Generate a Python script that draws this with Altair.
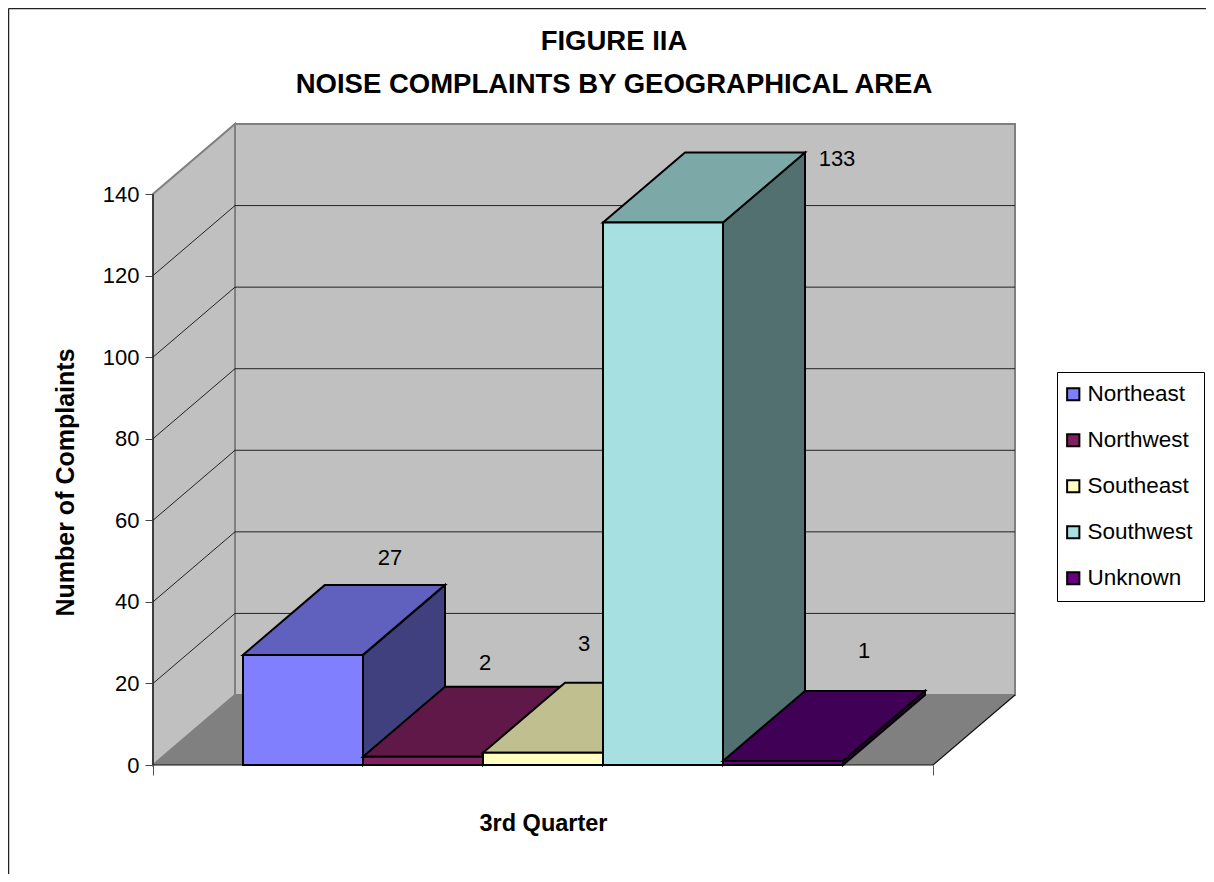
import altair as alt
import pandas as pd

regions = ["Northeast", "Northwest", "Southeast", "Southwest", "Unknown"]
complaints = [27, 2, 3, 133, 1]
front_colors = ["#8080FF", "#802060", "#FFFFC0", "#A6E0E0", "#660080"]
top_colors = ["#6060BF", "#601848", "#BFBF90", "#7CA8A8", "#400055"]
side_colors = ["#40407F", "#401030", "#808060", "#537070", "#330040"]
y_ticks = [0, 20, 40, 60, 80, 100, 120, 140]
title_lines = ["FIGURE IIA", "NOISE COMPLAINTS BY GEOGRAPHICAL AREA"]
y_title = "Number of Complaints"
x_title = "3rd Quarter"

# Oblique projection of the depth axis, in data units
DX, DY = 82 / 120, 70 * 140 / 571
X0, X1 = -0.75, 5.75
YMAX = 140

FONT = "Liberation Sans"
xs = alt.Scale(domain=[X0, X1 + DX], nice=False, zero=False)
ys = alt.Scale(domain=[0, YMAX + DY], nice=False, zero=False)
x_axis = alt.Axis(
    values=[X0, X1], labels=False, grid=False, domain=False, tickSize=10,
    tickColor="#555555", title=x_title, titleFont=FONT, titleFontSize=23.5,
    titleFontWeight="bold", titleColor="black", titleX=390, titleY=46,
)
y_axis = alt.Axis(
    values=y_ticks, grid=False, domain=False, tickSize=8, tickColor="#444444",
    labelFont=FONT, labelFontSize=22, labelColor="black", labelPadding=6,
    title=y_title, titleFont=FONT, titleFontSize=25, titleFontWeight="bold",
    titleColor="black", titleX=-75, titleY=358,
)
X = alt.X("x:Q", scale=xs, axis=x_axis)
Y = alt.Y("y:Q", scale=ys, axis=y_axis)
color = alt.Color(
    "region:N",
    scale=alt.Scale(domain=regions, range=front_colors),
    legend=alt.Legend(
        title=None, orient="none", legendX=904, legendY=248,
        symbolType="square", symbolSize=150, symbolStrokeColor="black",
        symbolStrokeWidth=2, labelFont=FONT, labelFontSize=22.5, labelColor="black",
        labelLimit=200, rowPadding=23, padding=11, strokeColor="black",
        fillColor="white", labelOffset=3, symbolOffset=alt.expr("-6"),
    ),
)


def vert(rows, fill, stroke=None, sw=2):
    df = pd.DataFrame(rows, columns=["x", "y", "y2"])
    kw = {"stroke": stroke, "strokeWidth": sw} if stroke else {}
    return alt.Chart(df).mark_area(color=fill, opacity=1, **kw).encode(x=X, y=Y, y2="y2:Q")


def horiz(rows, fill, stroke=None, sw=2):
    df = pd.DataFrame(rows, columns=["y", "x", "x2"])
    kw = {"stroke": stroke, "strokeWidth": sw} if stroke else {}
    return (
        alt.Chart(df)
        .mark_area(color=fill, opacity=1, orient="horizontal", **kw)
        .encode(y=Y, x=X, x2="x2:Q")
    )


def line(rows, stroke, sw=1.0):
    df = pd.DataFrame(rows, columns=["x", "y"])
    df["o"] = range(len(df))
    return (
        alt.Chart(df)
        .mark_line(color=stroke, strokeWidth=sw)
        .encode(x=X, y=Y, order="o:Q")
    )


layers = []

# Walls and floor
layers.append(vert([(X0 + DX, DY, YMAX + DY), (X1 + DX, DY, YMAX + DY)], "#C0C0C0", "#808080", 2))
layers.append(vert([(X0, 0, YMAX), (X0 + DX, DY, YMAX + DY)], "#C0C0C0", "#808080", 2))
layers.append(horiz([(0, X0, X1), (DY, X0 + DX, X1 + DX)], "#808080"))

# Gridlines
for t in y_ticks[1:-1]:
    layers.append(line([(X0, t), (X0 + DX, t + DY), (X1 + DX, t + DY)], "#111111", 0.9))

# Axis lines
layers.append(line([(X0, YMAX), (X0, 0), (X1, 0), (X1 + DX, DY)], "#111111", 1.2))

# Bars, painted left to right
for i, (r, v) in enumerate(zip(regions, complaints)):
    a, b = float(i), float(i + 1)
    side = vert([(b, 0, v), (b + DX, DY, v + DY)], side_colors[i], "black")
    top = horiz([(v, a, b), (v + DY, a + DX, b + DX)], top_colors[i], "black")
    front_df = pd.DataFrame({"x": [a, b], "y": [0, 0], "y2": [v, v], "region": [r, r]})
    front = (
        alt.Chart(front_df)
        .mark_area(opacity=1, stroke="black", strokeWidth=2)
        .encode(x=X, y=Y, y2="y2:Q", color=color)
    )
    layers += [side, top, front]

# Value labels
label_offsets = [(5, -27), (-20, -24), (-41, -39), (92, 6), (-1, -40)]
for i, v in enumerate(complaints):
    df = pd.DataFrame({"x": [i + 0.5 + DX], "y": [v + DY], "t": [str(v)]})
    ox, oy = label_offsets[i]
    layers.append(
        alt.Chart(df)
        .mark_text(font=FONT, fontSize=22, color="black", dx=ox, dy=oy)
        .encode(x=X, y=Y, text="t:N")
    )

# Outer frame
frame_h = pd.DataFrame({"a": [0]})
layers.append(
    alt.Chart(frame_h).mark_rule(color="#222222", strokeWidth=1.5)
    .encode(x=alt.value(-144.5), x2=alt.value(1053), y=alt.value(-115.5))
)
layers.append(
    alt.Chart(frame_h).mark_rule(color="#222222", strokeWidth=1.5)
    .encode(x=alt.value(-144.5), y=alt.value(-115.5), y2=alt.value(750))
)

chart = (
    alt.layer(*layers)
    .properties(
        width=862,
        height=641,
        padding={"left": 145, "top": 116, "right": 191, "bottom": 109},
        autosize=alt.AutoSizeParams(type="none"),
        background="white",
        title=alt.TitleParams(
            text=title_lines, font=FONT, fontSize=27.5, fontWeight="bold", color="black",
            anchor="middle", dx=30, offset=-91, lineHeight=43,
        ),
    )
    .configure_view(stroke=None)
)

chart.save("out.html", embed_options={"renderer": "svg", "actions": False})
